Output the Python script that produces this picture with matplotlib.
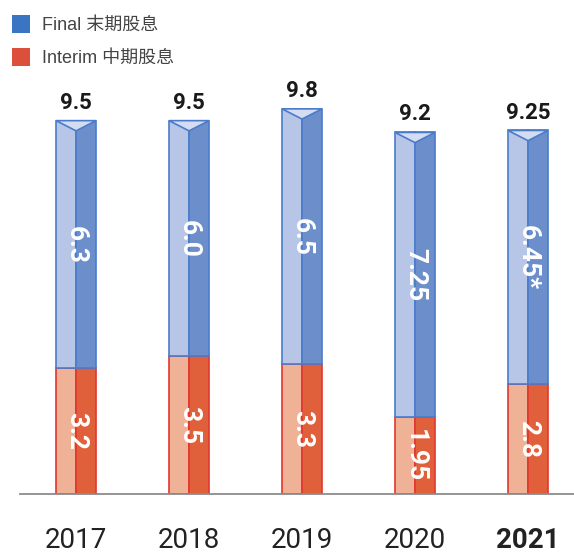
import matplotlib.pyplot as plt
from matplotlib.patches import Polygon, Rectangle

years = ['2017', '2018', '2019', '2020', '2021']
interim = [3.2, 3.5, 3.3, 1.95, 2.8]
final = [6.3, 6.0, 6.5, 7.25, 6.45]
totals = ['9.5', '9.5', '9.8', '9.2', '9.25']
interim_labels = ['3.2', '3.5', '3.3', '1.95', '2.8']
final_labels = ['6.3', '6.0', '6.5', '7.25', '6.45*']

plt.rcParams['font.family'] = ['Liberation Sans', 'Noto Sans CJK SC']

fig = plt.figure(figsize=(5.74, 5.53), dpi=100)
ax = fig.add_axes([20 / 574, 59 / 553, 554 / 574, 494 / 553])
ax.set_xlim(-0.496, 4.407)
ax.set_ylim(0, 494 / 39.3)

w = 0.354  # bar width
depth = 0.26  # depth of top triangle

# colours
fin_left, fin_right, fin_top, fin_edge = '#b7c5e6', '#6c8fcc', '#d3dcf1', '#4a7ccb'
int_left, int_right, int_edge = '#f0b296', '#df603b', '#e2372f'

for i in range(len(years)):
    tot = interim[i] + final[i]
    # interim segment
    ax.bar(i - w / 4, interim[i], w / 2, color=int_left, edgecolor=int_edge, linewidth=1.2, zorder=2)
    ax.bar(i + w / 4, interim[i], w / 2, color=int_right, edgecolor=int_edge, linewidth=1.2, zorder=2)
    # final segment
    ax.bar(i - w / 4, final[i], w / 2, bottom=interim[i], color=fin_left, edgecolor=fin_edge, linewidth=1.2, zorder=2)
    ax.bar(i + w / 4, final[i], w / 2, bottom=interim[i], color=fin_right, edgecolor=fin_edge, linewidth=1.2, zorder=2)
    # top face triangle
    tri = Polygon([[i - w / 2, tot], [i + w / 2, tot], [i, tot - depth]], closed=True,
                  facecolor=fin_top, edgecolor=fin_edge, linewidth=1.2, zorder=3)
    ax.add_patch(tri)

    # labels
    ax.annotate(totals[i], (i, tot), xytext=(0, 5), textcoords='offset points',
                ha='center', va='bottom', fontsize=16, fontweight='bold', color='#1a1a1a',
                family='Roboto')
    ax.text(i, interim[i] + final[i] / 2, final_labels[i], rotation=-90, ha='center', va='center',
            fontsize=19, fontweight='bold', color='white', family='Roboto', zorder=4)
    ax.text(i, interim[i] / 2, interim_labels[i], rotation=-90, ha='center', va='center',
            fontsize=19, fontweight='bold', color='white', family='Roboto', zorder=4)

for s in ['top', 'right', 'left']:
    ax.spines[s].set_visible(False)
ax.spines['bottom'].set_color('#8c8c8c')
ax.spines['bottom'].set_linewidth(1.3)
ax.set_yticks([])
ax.set_xticks(range(len(years)))
ax.set_xticklabels(years, fontsize=20, color='#222222', family='Roboto')
ax.tick_params(axis='x', length=0, pad=24)
ax.get_xticklabels()[-1].set_fontweight('bold')

# legend
fig.patches.append(Rectangle((12 / 574, 1 - 33 / 553), 18 / 574, 18 / 553,
                             transform=fig.transFigure, facecolor='#3a75c4', edgecolor='none'))
fig.patches.append(Rectangle((12 / 574, 1 - 66 / 553), 18 / 574, 18 / 553,
                             transform=fig.transFigure, facecolor='#dc4f3d', edgecolor='none'))
fig.text(42 / 574, 1 - 25 / 553, 'Final 末期股息', fontsize=13, color='#444444', va='center')
fig.text(42 / 574, 1 - 58 / 553, 'Interim 中期股息', fontsize=13, color='#444444', va='center')

fig.savefig('out.png', dpi=100)
